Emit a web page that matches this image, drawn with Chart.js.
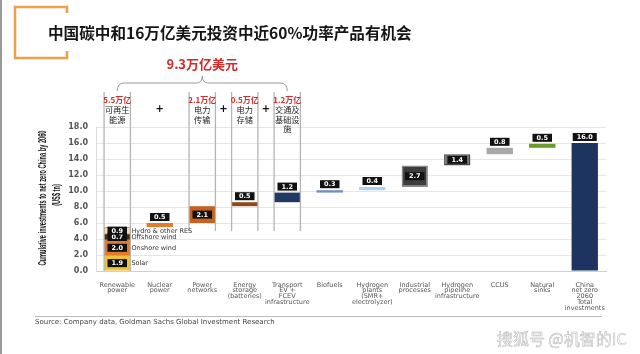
<!DOCTYPE html>
<html>
<head>
<meta charset="utf-8">
<script src="https://cdn.jsdelivr.net/npm/chart.js@4.4.1/dist/chart.umd.min.js"></script>
<style>
  body { margin: 0; background: #fff; }
  #wrap { position: relative; width: 640px; height: 354px; overflow: hidden; background: #fff; }
  #chart { position: absolute; left: 0; top: 0; }
  .edge { position: absolute; left: 0; top: 0; width: 2px; height: 354px; background: #9a9a9a; }
  .title { position: absolute; left: 48px; top: 22px; font: bold 15.6px "Noto Sans CJK SC", sans-serif; line-height: 20px; color: #151515; white-space: nowrap; }
  .rule { position: absolute; left: 35px; top: 316px; width: 567px; height: 0; border-top: 1px solid #bdbdbd; }
  .source { position: absolute; left: 35px; top: 318px; font: 7px "DejaVu Sans", sans-serif; line-height: 8px; color: #444; white-space: nowrap; }
  .mark { position: absolute; left: 497px; top: 330px; font: 16px "Noto Sans CJK SC", sans-serif; line-height: 17px; color: #fff; -webkit-text-stroke: 0.5px #b4b4b4; white-space: nowrap; }
</style>
</head>
<body>
<div id="wrap">
  <canvas id="chart" width="640" height="354"></canvas>
  <div class="edge"></div>
  <div class="title">中国碳中和16万亿美元投资中近60%功率产品有机会</div>
  <div class="rule"></div>
  <div class="source">Source: Company data, Goldman Sachs Global Investment Research</div>
  <div class="mark">搜狐号 @机智的IC</div>
</div>
<script>
// categories on the x axis
const categories = [
  ["Renewable", "power"], ["Nuclear", "power"], ["Power", "networks"],
  ["Energy", "storage", "(batteries)"], ["Transport", "EV +", "FCEV", "infrastructure"],
  ["Biofuels"], ["Hydrogen", "plants", "(SMR+", "electrolyzer)"],
  ["Industrial", "processes"], ["Hydrogen", "pipeline", "infrastructure"],
  ["CCUS"], ["Natural", "sinks"], ["China", "net zero", "2060", "Total", "investments"]
];

// US$ tn per step of the waterfall (last one is the total)
const stepValues = [5.5, 0.5, 2.1, 0.5, 1.2, 0.3, 0.4, 2.7, 1.4, 0.8, 0.5, 16.0];
const stepColors = ["#e8782c", "#e8782c", "#c5621f", "#8e4a1c", "#1f3864", "#6e8fc4",
                    "#a9d2f0", "#3d3d3d", "#6f6f6f", "#a8a8a8", "#6b9a2f", "#1d3461"];

// renewable power split, bottom to top
const renewNames = ["Solar", "Onshore wind", "Offshore wind", "Hydro & other RES"];
const renewValues = [1.9, 2.0, 0.7, 0.9];
const renewColors = ["#f1c232", "#e27b2e", "#4b2a12", "#f9d9b6"];

// chinese annotation over the power related columns
const groupIndex = [0, 2, 3, 4];
const groupAmounts = ["5.5万亿", "2.1万亿", "0.5万亿", "1.2万亿"];
const groupNames = [["可再生", "能源"], ["电力", "传输"], ["电力", "存储"], ["交通及", "基础设", "施"]];
const groupTotal = "9.3万亿美元";

const yTitle = ["Cumulative investments to net zero China by 2060", "(US$ tn)"];

// floating bars for the waterfall
const last = stepValues.length - 1;
let base = 0;
const stepBars = stepValues.map((v, i) => {
  if (i === 0) { base = v; return null; }
  if (i === last) return [0, v];
  const bar = [base, base + v];
  base += v;
  return bar;
});

const datasets = [];
let rb = 0;
renewValues.forEach((v, k) => {
  const d = categories.map(() => null);
  d[0] = [rb, rb + v];
  rb += v;
  datasets.push({
    label: renewNames[k], data: d, backgroundColor: renewColors[k],
    borderColor: k === 3 ? "#e8923c" : renewColors[k], borderWidth: k === 3 ? 1 : 0,
    borderSkipped: false, grouped: false
  });
});
datasets.push({
  label: "steps", data: stepBars, backgroundColor: stepColors,
  borderColor: stepColors.map((c, i) => i === 7 ? "#8a8a8a" : i === 8 ? "#4a4a4a" : c),
  borderWidth: stepColors.map((c, i) => (i === 7 || i === 8) ? 1.5 : 0),
  borderSkipped: false, grouped: false
});

function labelBox(ctx, text, cx, cy) {
  ctx.font = "bold 6.5px 'DejaVu Sans', sans-serif";
  const w = Math.max(18, ctx.measureText(text).width + 8);
  ctx.fillStyle = "#111";
  ctx.fillRect(cx - w / 2, cy - 4, w, 8);
  ctx.fillStyle = "#fff";
  ctx.textAlign = "center";
  ctx.textBaseline = "middle";
  ctx.fillText(text, cx, cy + 0.5);
}

const decor = {
  id: "decor",
  afterDatasetsDraw(chart) {
    const ctx = chart.ctx;
    const x = chart.scales.x, y = chart.scales.y;
    const main = chart.getDatasetMeta(datasets.length - 1);
    const bw = main.data[2].width;
    ctx.save();

    // grey column outlines
    ctx.strokeStyle = "#b4b4b4";
    ctx.lineWidth = 1.3;
    groupIndex.forEach((gi, k) => {
      const cx = x.getPixelForValue(gi);
      const yb = y.getPixelForValue(k === 0 ? 0 : 5.0);
      [cx - bw / 2, cx + bw / 2].forEach(px => {
        ctx.beginPath(); ctx.moveTo(px, 92); ctx.lineTo(px, yb); ctx.stroke();
      });
    });

    // column headings and plus signs
    ctx.textAlign = "center";
    ctx.textBaseline = "middle";
    groupIndex.forEach((gi, k) => {
      const cx = x.getPixelForValue(gi);
      ctx.fillStyle = "#d42a2a";
      ctx.font = "bold 8px 'Noto Sans CJK SC', sans-serif";
      ctx.fillText(groupAmounts[k], cx, 100);
      ctx.fillStyle = "#222";
      ctx.font = "8.2px 'Noto Sans CJK SC', sans-serif";
      groupNames[k].forEach((t, j) => ctx.fillText(t, cx, 110 + j * 9.6));
      if (k < groupIndex.length - 1) {
        const nx = x.getPixelForValue(groupIndex[k + 1]);
        const px = ((cx + bw / 2) + (nx - bw / 2)) / 2;
        ctx.font = "bold 10px 'DejaVu Sans', sans-serif";
        ctx.fillStyle = "#111";
        ctx.fillText("+", px, 109);
      }
    });

    // brace and total
    const x1 = x.getPixelForValue(groupIndex[0]);
    const x2 = x.getPixelForValue(groupIndex[groupIndex.length - 1]);
    const mid = (x1 + x2) / 2;
    ctx.strokeStyle = "#9a9a9a";
    ctx.lineWidth = 1;
    ctx.beginPath();
    ctx.moveTo(x1, 91);
    ctx.quadraticCurveTo(x1, 83, x1 + 7, 83);
    ctx.lineTo(mid - 6, 83);
    ctx.quadraticCurveTo(mid, 83, mid, 76);
    ctx.quadraticCurveTo(mid, 83, mid + 6, 83);
    ctx.lineTo(x2 - 7, 83);
    ctx.quadraticCurveTo(x2, 83, x2, 91);
    ctx.stroke();
    ctx.fillStyle = "#d42a2a";
    ctx.font = "bold 13px 'Noto Sans CJK SC', sans-serif";
    ctx.fillText(groupTotal, mid, 64);

    // orange corner bracket next to the title
    ctx.strokeStyle = "#eba04a";
    ctx.lineWidth = 2.5;
    ctx.beginPath();
    ctx.moveTo(67, 13); ctx.lineTo(67, 7); ctx.lineTo(15, 7); ctx.lineTo(15, 58); ctx.lineTo(67, 58); ctx.lineTo(67, 51);
    ctx.stroke();

    // renewable split labels and names
    renewValues.forEach((v, k) => {
      const el = chart.getDatasetMeta(k).data[0];
      const cy = (el.y + el.base) / 2;
      labelBox(ctx, v.toFixed(1), el.x, cy);
      ctx.fillStyle = "#333";
      ctx.font = "6.5px 'DejaVu Sans', sans-serif";
      ctx.textAlign = "left";
      ctx.fillText(renewNames[k], el.x + el.width / 2 + 1, cy + 0.5);
    });

    // value boxes on the other steps; the total gets its box on top
    stepValues.forEach((v, i) => {
      if (i === 0) return;
      const el = main.data[i];
      const top = Math.min(el.y, el.base), h = Math.abs(el.base - el.y);
      const cy = (h >= 10.5 && i !== last) ? top + h / 2 : top - 6;
      labelBox(ctx, v.toFixed(1), el.x, cy);
    });

    // rotated y axis title, squeezed along the text
    ctx.fillStyle = "#111";
    ctx.font = "bold 10px 'Liberation Sans', sans-serif";
    ctx.textAlign = "center";
    const sx = 135 / ctx.measureText(yTitle[0]).width;
    [[43, 198], [57, 195]].forEach((p, j) => {
      ctx.save();
      ctx.translate(p[0], p[1]);
      ctx.rotate(-Math.PI / 2);
      ctx.scale(sx, 1);
      ctx.fillText(yTitle[j], 0, 0);
      ctx.restore();
    });
    ctx.restore();
  }
};

new Chart(document.getElementById("chart"), {
  type: "bar",
  data: { labels: categories, datasets: datasets },
  options: {
    responsive: false,
    animation: false,
    layout: { padding: { left: 60, right: 34, top: 127, bottom: 36 } },
    datasets: { bar: { barPercentage: 0.62, categoryPercentage: 1 } },
    plugins: { legend: { display: false }, tooltip: { enabled: false }, title: { display: false } },
    scales: {
      x: {
        grid: { display: false },
        border: { display: true, color: "#cfcfcf" },
        afterFit: s => { s.height = 47; },
        ticks: {
          autoSkip: false, maxRotation: 0, minRotation: 0, padding: 3,
          color: "#555", font: { family: "DejaVu Sans", size: 6.5, lineHeight: 0.9 }
        }
      },
      y: {
        min: 0, max: 18,
        afterFit: s => { s.width = 36; },
        grid: { color: "#e6e6e6", drawTicks: false },
        border: { display: true, color: "#dddddd" },
        ticks: {
          stepSize: 2, padding: 8, color: "#555",
          font: { family: "DejaVu Sans", size: 8, weight: "bold" },
          callback: v => Number(v).toFixed(1)
        }
      }
    }
  },
  plugins: [decor]
});
</script>
</body>
</html>
